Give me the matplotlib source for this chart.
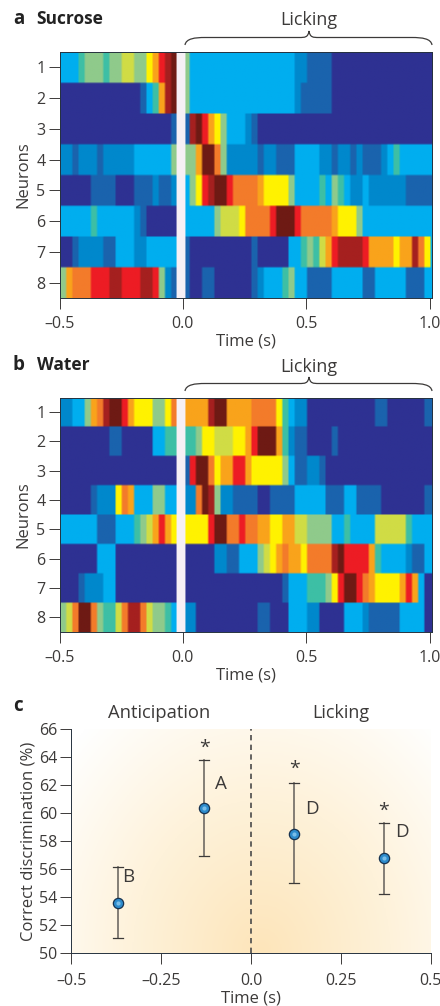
import numpy as np
import matplotlib
matplotlib.use('Agg')
import matplotlib.pyplot as plt
from matplotlib.colors import LinearSegmentedColormap
from matplotlib.path import Path
from matplotlib.patches import PathPatch

# activity level per 25 ms bin, 0 = navy ... 12 = dark red
sucrose_1 = [3,3,3,4,5,5,5,4,5,5, 6,6,5,5,7,8,10,11,12,12, 5,3,3,3,3,3,3,3,3,3, 3,3,3,3,3,3,3,3,2,2, 1,1,1,1,0,0,0,0,0,0, 0,0,0,0,0,0,0,0,0,0,0]
sucrose_2 = [0,0,0,0,0,0,0,0,0,0, 0,0,0,1,3,4,8,11,12,12, 5,3,3,3,3,3,3,3,3,3, 3,3,3,3,3,3,3,3,2,1, 1,1,1,1,0,0,0,0,0,0, 0,0,0,0,0,0,0,0,0,0,0]
sucrose_3 = [0,0,0,0,0,0,0,0,0,0, 0,0,0,0,0,0,0,0,1,1, 1,11,12,10,8,7,5,3,3,3, 2,1,0,0,0,0,0,0,0,0, 0,0,0,0,0,0,0,0,0,0, 0,0,0,0,0,0,0,0,0,0,0]
sucrose_4 = [2,2,1,2,2,2,1,2,2,2, 2,2,3,3,3,3,3,3,5,5, 5,5,8,12,12,9,5,2,2,2, 2,2,1,2,2,1,1,1,3,3, 3,3,2,2,1,2,2,1,2,1, 1,1,2,3,4,3,3,3,3,3,3]
sucrose_5 = [0,0,0,0,0,1,1,1,1,0, 0,0,1,1,1,2,1,1,2,2, 3,5,7,10,11,12,12,10,9,9, 9,9,8,7,7,7,7,5,3,3, 3,3,4,3,5,4,3,2,2,3, 2,2,2,2,2,2,1,1,1,1,1]
sucrose_6 = [3,3,3,3,3,4,3,3,3,3, 3,3,2,1,0,0,0,0,0,0, 3,3,3,3,3,5,6,6,6,7, 9,9,9,9,10,12,12,12,10,9, 9,9,9,9,8,7,7,7,5,3, 3,3,3,3,3,3,3,3,3,3,3]
sucrose_7 = [0,0,1,2,2,2,2,1,1,3, 3,3,2,2,3,3,3,3,3,3, 1,0,0,0,0,0,0,0,0,0, 0,1,0,0,0,0,0,3,3,4, 5,4,6,8,10,11,11,11,11,10, 8,8,8,8,7,8,8,11,9,7,3]
sucrose_8 = [5,8,9,9,9,10,10,10,11,11, 10,10,10,11,11,10,5,2,1,1, 1,0,0,1,1,0,0,0,0,0, 0,1,2,3,3,3,4,5,3,3, 1,1,1,1,3,3,3,3,3,1, 1,3,3,3,3,3,1,1,1,3,3]
water_1 = [2,2,3,3,5,8,9,11,12,12, 10,8,7,7,7,5,5,7,9,9, 8,8,8,8,11,12,12,8,8,8, 8,9,9,9,9,7,4,3,2,2, 0,0,0,0,0,0,0,0,0,0, 0,1,1,0,0,0,0,0,0,1,1]
water_2 = [0,0,0,0,0,0,0,0,1,1, 0,0,0,0,0,3,3,4,4,4, 4,4,5,7,7,6,6,6,7,7, 8,10,12,12,12,8,4,2,1,1, 0,0,0,0,1,0,0,0,0,0, 0,0,0,0,0,0,0,0,0,0,0]
water_3 = [0,0,0,0,0,0,0,0,0,0, 0,0,0,0,0,0,0,0,0,0, 1,10,12,12,9,7,8,8,10,10, 8,7,7,7,7,7,5,3,1,1, 2,2,1,0,0,0,0,0,0,0, 0,0,0,0,0,0,0,0,0,0,0]
water_4 = [0,0,0,0,0,1,2,2,2,7, 9,8,3,3,3,5,5,3,3,3, 2,2,9,12,11,5,2,2,1,1, 1,1,0,0,1,1,1,1,3,3, 3,3,3,1,1,1,3,3,1,1, 1,1,0,0,0,0,0,0,0,1,1]
water_5 = [3,3,3,3,3,3,1,1,1,3, 3,3,4,5,6,8,10,8,7,7, 7,7,7,7,10,12,12,9,9,10, 9,9,8,8,7,7,8,8,6,6, 5,5,5,5,3,3,4,3,3,3, 3,6,6,6,6,6,4,3,3,3,3]
water_6 = [0,0,0,0,0,0,3,3,3,0, 0,0,0,0,0,0,0,0,0,0, 0,0,0,0,0,2,2,1,1,3, 3,3,5,6,7,8,9,8,8,7, 9,9,9,9,11,12,10,10,10,10, 8,4,3,3,3,3,2,1,1,3,3]
water_7 = [0,0,0,1,2,2,2,3,3,0, 0,0,0,0,0,0,0,0,0,0, 0,0,0,0,0,0,0,0,0,0, 0,0,0,0,0,0,1,3,3,3, 4,4,4,5,7,10,12,12,10,9, 8,7,7,7,7,8,10,8,3,0,0]
water_8 = [5,6,9,12,12,9,5,4,4,6, 9,11,11,9,6,5,5,4,3,3, 2,2,0,0,0,0,0,0,0,0, 0,0,1,1,0,0,0,3,3,3, 2,2,0,0,0,0,3,3,3,2, 1,1,1,1,1,3,3,3,3,0,0]

neuron_ticks = [1, 2, 3, 4, 5, 6, 7, 8]
time_ticks = [-0.5, 0.0, 0.5, 1.0]
time_labels = ['–0.5', '0.0', '0.5', '1.0']

# panel c
c_x = [-0.37, -0.13, 0.12, 0.37]
c_mean = [53.6, 60.35, 58.55, 56.8]
c_low = [51.1, 56.95, 55.05, 54.25]
c_high = [56.15, 63.8, 62.15, 59.3]
c_letters = ['B', 'A', 'D', 'D']
c_stars = [None, 65.1, 63.6, 60.6]
c_yticks = [50, 52, 54, 56, 58, 60, 62, 64, 66]
c_xticks = [-0.5, -0.25, 0.0, 0.25, 0.5]
c_xlabels = ['–0.5', '–0.25', '0.0', '0.25', '0.5']

plt.rcParams['font.family'] = ['Open Sans', 'DejaVu Sans']
txt = '#3c3a39'
W, H = 440, 1006
fig = plt.figure(figsize=(W / 100, H / 100), dpi=100)

colors = ['#2e3192', '#1a63ad', '#0088cc', '#00aeef', '#3dbfa5', '#8fca8b', '#d0dc45',
          '#fff200', '#f9a31b', '#f37b2a', '#ed1c24', '#a5201f', '#6e1a14']
cmap = LinearSegmentedColormap.from_list('heat', colors, N=13)


def px_axes(left, right, top, bottom):
    return fig.add_axes([left / W, 1 - bottom / H, (right - left) / W, (bottom - top) / H])


def heat(rows, top, bottom):
    ax = px_axes(59.5, 432, top, bottom)
    # repeat the bins so that bilinear only softens the cell edges by a pixel or two
    grid = np.repeat(np.repeat(np.array(rows), 15, axis=0), 3, axis=1)
    ax.imshow(grid, cmap=cmap, vmin=0, vmax=12, aspect='auto',
              extent=[-0.5, 1.025, 8.5, 0.5], interpolation='bilinear', interpolation_stage='rgba')
    ax.axvspan(-0.028, 0.013, color='#f6f0f5', lw=0, alpha=0.45)
    ax.axvspan(-0.022, 0.007, color='#f6f0f5', lw=0)
    ax.set_xlim(-0.5, 1.01)
    ax.set_ylim(8.5, 0.5)
    ax.set_yticks(neuron_ticks)
    ax.set_xticks(time_ticks)
    ax.set_xticklabels(time_labels)
    ax.tick_params(length=8, width=0.7, color='#3c3a39', labelcolor=txt, labelsize=11.5)
    ax.tick_params(axis='x', pad=5)
    ax.tick_params(axis='y', pad=2)
    ax.set_xlabel('Time (s)', fontsize=12, color=txt, labelpad=1)
    ax.set_ylabel('Neurons', fontsize=12, color=txt, labelpad=4)
    for s in ax.spines.values():
        s.set_linewidth(0.7)
        s.set_color('#26323f')
    return ax


heat([sucrose_1, sucrose_2, sucrose_3, sucrose_4, sucrose_5, sucrose_6, sucrose_7, sucrose_8], 52, 298)
heat([water_1, water_2, water_3, water_4, water_5, water_6, water_7, water_8], 397.5, 632)

# panel c
ax = px_axes(71.3, 430.7, 729.3, 953.3)
gx, gy = np.meshgrid(np.linspace(-0.5, 0.5, 200), np.linspace(50, 66, 200))
glow = np.clip(1 - np.sqrt(((gx - 0.03) / 0.72) ** 2 + ((gy - 50) / 22.0) ** 2), 0, 1)
ramp = LinearSegmentedColormap.from_list('glow', ['#ffffff', '#fef2da', '#fde5ba'])
ax.imshow(glow, cmap=ramp, vmin=0, vmax=1, origin='lower', aspect='auto', extent=[-0.5, 0.5, 50, 66])
ax.axvline(0, color='#4a4a4a', lw=1.2, ls=(0, (3.2, 2.6)))
for i in range(4):
    ax.plot([c_x[i], c_x[i]], [c_low[i], c_high[i]], color='#6f6a64', lw=1.2, zorder=3)
    ax.plot([c_x[i] - 0.014, c_x[i] + 0.014], [c_low[i], c_low[i]], color='#3c3a39', lw=0.9, zorder=3)
    ax.plot([c_x[i] - 0.014, c_x[i] + 0.014], [c_high[i], c_high[i]], color='#3c3a39', lw=0.9, zorder=3)
ax.plot(c_x, c_mean, 'o', ms=7.4, mfc='#2d8bcc', mec='#17324f', mew=0.9, zorder=4, ls='none')
ax.plot(c_x, c_mean, 'o', ms=3, mfc='#79bde8', mec='none', zorder=5, ls='none')
letter_dx = [0.027, 0.047, 0.05, 0.05]
letter_y = [55.45, 62.1, 60.3, 58.65]
for i in range(4):
    ax.text(c_x[i] + letter_dx[i], letter_y[i], c_letters[i], fontsize=13.5, color=txt, ha='center', va='center')
    if c_stars[i] is not None:
        ax.text(c_x[i], c_stars[i] - 0.4, '*', fontsize=14, color=txt, ha='center', va='center')
ax.set_xlim(-0.5, 0.5)
ax.set_ylim(50, 66)
ax.set_xticks(c_xticks)
ax.set_xticklabels(c_xlabels)
ax.set_yticks(c_yticks)
ax.tick_params(length=8, width=0.7, color='#3c3a39', labelcolor=txt, labelsize=11.5)
ax.tick_params(axis='x', pad=6)
ax.tick_params(axis='y', pad=2)
ax.set_xlabel('Time (s)', fontsize=12, color=txt, labelpad=1)
ax.set_ylabel('Correct discrimination (%)', fontsize=12, color=txt, labelpad=2)
ax.spines['top'].set_visible(False)
ax.spines['right'].set_visible(False)
for s in ['left', 'bottom']:
    ax.spines[s].set_linewidth(0.7)
    ax.spines[s].set_color('#26323f')

# overlay in pixel coordinates for titles and braces
ov = fig.add_axes([0, 0, 1, 1])
ov.set_xlim(0, W)
ov.set_ylim(H, 0)
ov.axis('off')
ov.patch.set_alpha(0)


def brace(x0, x1, tip, y0):
    top = y0 - 7.5
    verts = [(x0, y0), (x0 + 1, top + 1), (x0 + 10, top), (x0 + 20, top),
             (tip - 10, top), (tip - 10, top), (tip - 4, top), (tip - 1, top), (tip, top - 6.5),
             (tip + 1, top), (tip + 4, top), (tip + 10, top), (tip + 10, top),
             (x1 - 20, top), (x1 - 10, top), (x1 - 1, top + 1), (x1, y0)]
    codes = [Path.MOVETO, Path.CURVE4, Path.CURVE4, Path.CURVE4,
             Path.LINETO, Path.LINETO, Path.CURVE4, Path.CURVE4, Path.CURVE4,
             Path.CURVE4, Path.CURVE4, Path.CURVE4, Path.LINETO,
             Path.LINETO, Path.CURVE4, Path.CURVE4, Path.CURVE4]
    ov.add_patch(PathPatch(Path(verts, codes), fc='none', ec='#3c3a39', lw=0.9))


brace(185, 432, 309, 45)
brace(185, 432, 309, 391)
ov.text(309, 20, 'Licking', fontsize=13, color=txt, ha='center', va='center')
ov.text(309, 367.5, 'Licking', fontsize=13, color=txt, ha='center', va='center')
ov.text(13, 19, 'a', fontsize=13.5, fontweight='bold', color='#222222', va='center')
ov.text(36, 19, 'Sucrose', fontsize=12.5, fontweight='bold', color='#222222', va='center')
ov.text(13, 365, 'b', fontsize=13.5, fontweight='bold', color='#222222', va='center')
ov.text(37, 365, 'Water', fontsize=12.5, fontweight='bold', color='#222222', va='center')
ov.text(13, 706, 'c', fontsize=13.5, fontweight='bold', color='#222222', va='center')
ov.text(158.7, 713, 'Anticipation', fontsize=13.2, color=txt, ha='center', va='center')
ov.text(341, 713, 'Licking', fontsize=13, color=txt, ha='center', va='center')

fig.savefig('out.png', dpi=100)
